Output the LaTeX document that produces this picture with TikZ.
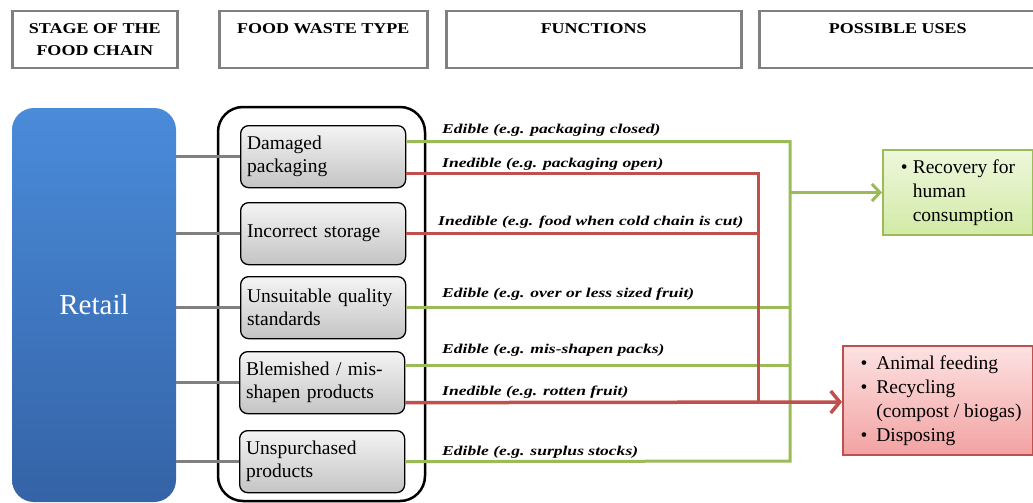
\documentclass[tikz,border=0pt]{standalone}
\usepackage{fontspec}
\setmainfont{Liberation Serif}
\newfontfamily\labfont[FakeStretch=1.3]{Liberation Serif}
\newfontfamily\hdrfont[FakeStretch=1.2]{Liberation Serif}
\usetikzlibrary{arrows.meta,calc}
\definecolor{grn}{HTML}{9BBB59}
\definecolor{rd}{HTML}{C0504D}
\definecolor{hdrgray}{HTML}{808080}
\definecolor{boxtop}{HTML}{F4F4F4}
\definecolor{boxbot}{HTML}{C4C4C4}
\definecolor{retailtop}{HTML}{4A8BDA}
\definecolor{retailbot}{HTML}{3463A6}
\definecolor{gtop}{HTML}{EEF7DC}
\definecolor{gbot}{HTML}{D2EAA6}
\definecolor{rtop}{HTML}{FDE2E2}
\definecolor{rbot}{HTML}{F3A2A2}
\begin{document}
\begin{tikzpicture}[x=1pt,y=-1pt,
  hdr/.style={draw=hdrgray, line width=2.5pt, minimum height=57pt, anchor=north west, align=center,
    font=\hdrfont\fontsize{15}{22}\selectfont\bfseries, inner sep=0pt},
  wbox/.style={draw=black, line width=1.3pt, rounded corners=8pt, top color=boxtop, bottom color=boxbot,
    minimum width=165pt, minimum height=62pt, anchor=north west, text width=152pt, align=left,
    font=\fontsize{19.5}{23}\selectfont, inner sep=0pt},
  flab/.style={anchor=base west, font=\labfont\fontsize{13.5}{15}\selectfont\bfseries\itshape, inner sep=0pt},
  conn/.style={draw=hdrgray, line width=2.5pt},
  gl/.style={draw=grn, line width=3pt},
  rl/.style={draw=rd, line width=3pt},
  usebox/.style={line width=2pt, minimum height=#1, inner sep=0pt, font=\fontsize{19.5}{24}\selectfont},
]
\useasboundingbox (0,0) rectangle (1033,503);

% headers
\node[hdr, minimum width=165pt] (h1) at (11,10) {STAGE OF THE\\FOOD CHAIN};
\node[hdr, minimum width=208pt] (h2) at (218,10) {FOOD WASTE TYPE\\\mbox{}};
\node[hdr, minimum width=295pt] (h3) at (445,10) {FUNCTIONS\\\mbox{}};
\node[hdr, minimum width=277pt] (h4) at (758,10) {POSSIBLE USES\\\mbox{}};

% retail
\node[rounded corners=22pt, top color=retailtop, bottom color=retailbot, text=white,
  font=\fontsize{29}{30}\selectfont, minimum width=164pt, minimum height=394pt, inner sep=0pt]
  (retail) at (94,305) {Retail};

% container
\node[draw=black, line width=2.5pt, rounded corners=25pt, minimum width=207pt, minimum height=394pt]
  (cont) at (321.5,304) {};

% waste type boxes
\node[wbox] (b1) at (240,125) {Damaged\\packaging};
\node[wbox] (b2) at (240,202) {Incorrect storage};
\node[wbox] (b3) at (240,276) {Unsuitable quality\\standards};
\node[wbox] (b4) at (239,351) {Blemished / mis-\\shapen products};
\node[wbox] (b5) at (239,430) {Unspurchased\\products};

% connectors retail -> boxes
\foreach \b in {b1,b2,b3,b4,b5}
  \draw[conn] (retail.east |- \b.west) -- (\b.west);

% uses boxes
\node[usebox=85pt, draw=grn, top color=gtop, bottom color=gbot, minimum width=150pt] (g) at (958,192.5)
  {\begin{tabular}{@{}l@{\hspace{5pt}}l@{}}\textbullet & Recovery for\\ & human\\ & consumption\end{tabular}\hspace{10pt}};
\node[usebox=109pt, draw=rd, top color=rtop, bottom color=rbot, minimum width=190pt] (r) at (938,400.5)
  {\hspace{6pt}\begin{tabular}{@{}l@{\hspace{9pt}}l@{}}\textbullet & Animal feeding\\ \textbullet & Recycling\\ & (compost / biogas)\\ \textbullet & Disposing\end{tabular}};

% junction coordinates
\coordinate (gj) at (790,461);
\coordinate (rj) at (758,402);

% green lines
\draw[gl] ([yshift=15pt]b1.east) -| (gj) -- (b5.east);
\draw[gl] (b3.east) -- (b3.east -| gj);
\draw[gl] ([yshift=17pt]b4.east) -- ([yshift=17pt]b4.east -| gj);
\draw[gl, -{Straight Barb[length=8pt,width=17pt]}] (gj |- g.west) -- (g.west);

% red lines
\draw[rl] ([yshift=-17pt]b1.east) -| (rj);
\draw[rl] (b2.east) -- (b2.east -| rj);
\draw[rl, line width=3.5pt, -{Straight Barb[length=9pt,width=22pt]}] ([yshift=-20pt]b4.east) -- (r.west |- rj);

% function labels
\node[flab] (l1) at (442,133) {Edible (e.g. packaging closed)};
\node[flab] (l2) at (442,167) {Inedible (e.g. packaging open)};
\node[flab] (l3) at (438,225) {Inedible (e.g. food when cold chain is cut)};
\node[flab] (l4) at (442,297) {Edible (e.g. over or less sized fruit)};
\node[flab] (l5) at (442,353) {Edible (e.g. mis-shapen packs)};
\node[flab] (l6) at (442,395) {Inedible (e.g. rotten fruit)};
\node[flab] (l7) at (442,455) {Edible (e.g. surplus stocks)};
\end{tikzpicture}
\end{document}
